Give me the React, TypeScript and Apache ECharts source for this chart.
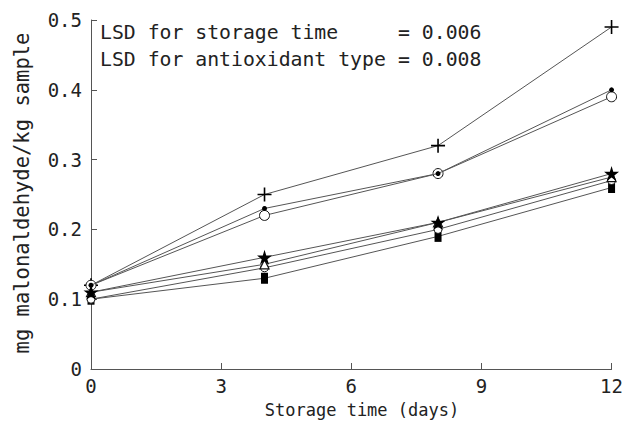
import React, { useEffect, useRef } from "react";
import * as echarts from "echarts";

const days = [0, 4, 8, 12];
const plusSeries = [0.12, 0.25, 0.32, 0.49];
const dotSeries = [0.12, 0.23, 0.28, 0.40];
const circleSeries = [0.12, 0.22, 0.28, 0.39];
const starSeries = [0.11, 0.16, 0.21, 0.28];
const triangleSeries = [0.11, 0.15, 0.21, 0.275];
const smallCircleSeries = [0.10, 0.145, 0.20, 0.27];
const squareSeries = [0.10, 0.13, 0.19, 0.26];
const lsdLabels = ["LSD for storage time", "LSD for antioxidant type"];
const lsdValues = ["= 0.006", "= 0.008"];
const xTitle = "Storage time (days)";
const yTitle = "mg malonaldehyde/kg sample";

const MONO = "DejaVu Sans Mono";
const STAR = "path://M50,0 L61,35 L98,35 L68,57 L79,91 L50,70 L21,91 L32,57 L2,35 L39,35 Z";
const PLUS = "path://M0,5 L10,5 M5,0 L5,10";

function pts(vals: number[]) {
  return days.map((d, i) => [d, vals[i]]);
}

function line(name: string, vals: number[], symbol: string, size: any, item: any, z = 3) {
  return {
    name,
    type: "line",
    data: pts(vals),
    symbol,
    symbolSize: size,
    showSymbol: true,
    lineStyle: { color: "#555", width: 1 },
    itemStyle: item,
    z,
  };
}

export default function App() {
  const ref = useRef<HTMLDivElement>(null);
  useEffect(() => {
    const chart = echarts.init(ref.current!, null, { renderer: "svg" });
    const fs = 19.8;
    const cw = fs * 0.602;
    chart.setOption({
      animation: false,
      backgroundColor: "#fff",
      grid: { left: 91, right: 14, top: 20, bottom: 55 },
      xAxis: {
        type: "value",
        min: 0,
        max: 12,
        interval: 3,
        axisLine: { lineStyle: { color: "#555", width: 1 } },
        axisTick: { inside: true, length: 6, lineStyle: { color: "#555" } },
        axisLabel: { fontFamily: MONO, fontSize: 19, color: "#222", margin: 7 },
        splitLine: { show: false },
      },
      yAxis: {
        type: "value",
        min: 0,
        max: 0.5,
        interval: 0.1,
        axisLine: { show: true, lineStyle: { color: "#555", width: 1 } },
        axisTick: { show: true, inside: true, length: 6, lineStyle: { color: "#555" } },
        axisLabel: {
          fontFamily: MONO,
          fontSize: 19,
          color: "#222",
          margin: 9,
          formatter: (v: number) => (v === 0 ? "0" : v.toFixed(1)),
        },
        splitLine: { show: false },
      },
      graphic: [
        { type: "text", left: 100, top: 22, style: { text: lsdLabels[0], font: `${fs}px "${MONO}"`, fill: "#222" } },
        { type: "text", left: 100 + 25 * cw, top: 22, style: { text: lsdValues[0], font: `${fs}px "${MONO}"`, fill: "#222" } },
        { type: "text", left: 100, top: 49, style: { text: lsdLabels[1], font: `${fs}px "${MONO}"`, fill: "#222" } },
        { type: "text", left: 100 + 25 * cw, top: 49, style: { text: lsdValues[1], font: `${fs}px "${MONO}"`, fill: "#222" } },
        {
          type: "text",
          x: 362,
          y: 410,
          style: { text: xTitle, font: `17px "${MONO}"`, fill: "#222", align: "center", verticalAlign: "middle" },
        },
        {
          type: "text",
          x: 22,
          y: 193,
          rotation: Math.PI / 2,
          style: { text: yTitle, font: `20.5px "${MONO}"`, fill: "#222", align: "center", verticalAlign: "middle" },
        },
      ],
      series: [
        line("plus", plusSeries, PLUS, 14, { color: "#000", borderColor: "#000", borderWidth: 1.6 }),
        line("dot", dotSeries, "circle", 5, { color: "#000", borderColor: "#000", borderWidth: 0 }, 4),
        line("circle", circleSeries, "circle", 10, { color: "#fff", borderColor: "#111", borderWidth: 1 }),
        line("square", squareSeries, "rect", [7, 11], { color: "#000", borderWidth: 0 }),
        line("smallCircle", smallCircleSeries, "circle", 8, { color: "#fff", borderColor: "#111", borderWidth: 1 }),
        line("triangle", triangleSeries, "triangle", 9, { color: "#fff", borderColor: "#111", borderWidth: 1.2 }),
        line("star", starSeries, STAR, 15, { color: "#000", borderWidth: 0 }, 5),
      ],
    });
    return () => chart.dispose();
  }, []);
  return <div ref={ref} style={{ width: 626, height: 424, position: "absolute", left: 0, top: 0 }} />;
}
